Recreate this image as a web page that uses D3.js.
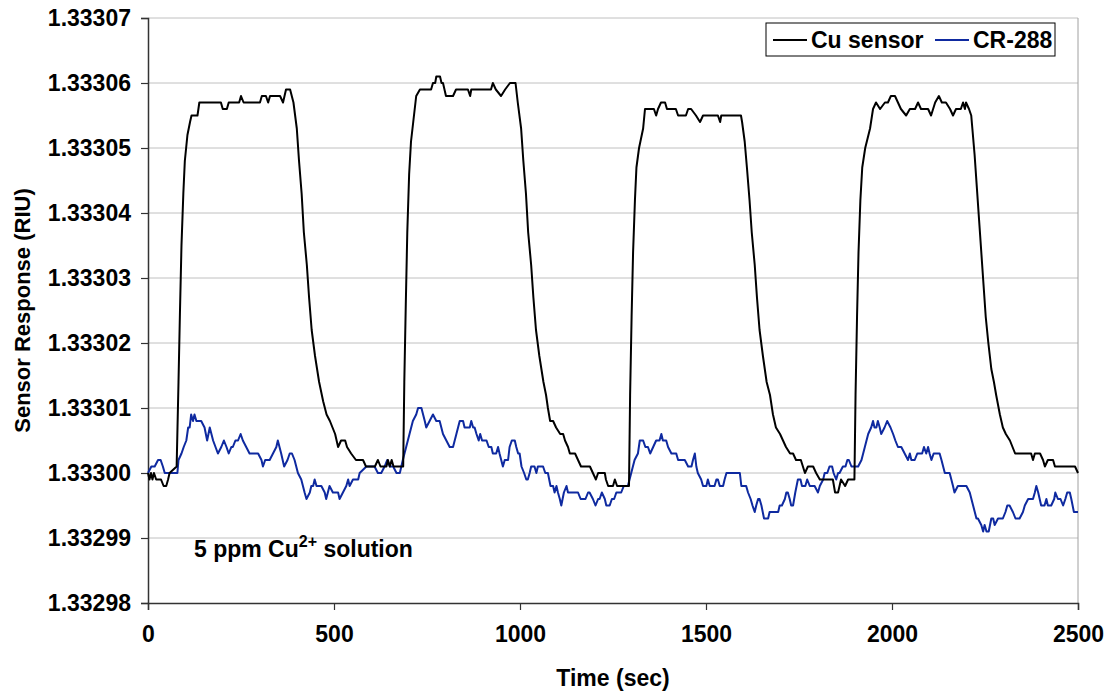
<!DOCTYPE html>
<html>
<head>
<meta charset="utf-8">
<script src="https://cdn.jsdelivr.net/npm/d3@7"></script>
<style>
  body { margin: 0; background: #fff; }
  text { font-family: "Liberation Sans", Arial, sans-serif; font-weight: bold; }
</style>
</head>
<body>
<svg id="chart" width="1110" height="691"></svg>
<script>
// readings, [time (sec), refractive index (RIU)]
var cuSensor = [
  [0,1.333000],[4,1.332999],[8,1.333000],[12,1.332999],[16,1.333000],[22,1.332999],[35,1.332999],[42,1.332998],[49,1.332998],[54,1.332999],[58,1.333000],[77,1.333001],
  [82,1.333014],[86,1.333025],[90,1.333035],[95,1.333043],[99,1.333048],[106,1.333052],[113,1.333054],[117,1.333055],[133,1.333055],[138,1.333057],
  [196,1.333057],[201,1.333056],[212,1.333056],[217,1.333057],[245,1.333057],[250,1.333058],[257,1.333057],[301,1.333057],[306,1.333058],[317,1.333058],
  [323,1.333057],[328,1.333058],[355,1.333058],[363,1.333057],[371,1.333059],[382,1.333059],[391,1.333057],
  [400,1.333053],[406,1.333048],[413,1.333043],[419,1.333037],[427,1.333032],[433,1.333027],[440,1.333022],[449,1.333018],[460,1.333014],[471,1.333011],
  [480,1.333009],[489,1.333008],[503,1.333006],[511,1.333004],[519,1.333005],[530,1.333005],[535,1.333004],[546,1.333003],[559,1.333002],[578,1.333002],
  [586,1.333001],[610,1.333001],[618,1.333002],[625,1.333001],[641,1.333001],[645,1.333002],[650,1.333001],[655,1.333002],[660,1.333001],[686,1.333001],
  [689,1.333014],[693,1.333026],[697,1.333037],[702,1.333046],[707,1.333051],[713,1.333054],[721,1.333058],[731,1.333059],[761,1.333059],[766,1.333060],
  [772,1.333060],[775,1.333061],[785,1.333061],[789,1.333060],[793,1.333060],[801,1.333058],[820,1.333058],[828,1.333059],[860,1.333059],[866,1.333058],
  [869,1.333059],[922,1.333059],[927,1.333060],[935,1.333059],[949,1.333058],[960,1.333059],[973,1.333060],[988,1.333060],[994,1.333057],
  [1003,1.333053],[1009,1.333048],[1016,1.333043],[1022,1.333037],[1030,1.333032],[1036,1.333027],[1043,1.333022],[1052,1.333018],[1063,1.333014],
  [1070,1.333012],[1075,1.333010],[1081,1.333008],[1089,1.333008],[1097,1.333007],[1108,1.333006],[1116,1.333006],[1121,1.333005],[1129,1.333004],
  [1134,1.333003],[1148,1.333003],[1156,1.333002],[1164,1.333001],[1188,1.333001],[1196,1.333000],[1204,1.332999],[1210,1.333000],[1228,1.333000],
  [1231,1.332999],[1237,1.332998],[1250,1.332998],[1255,1.332999],[1261,1.332998],[1293,1.332998],
  [1296,1.333012],[1300,1.333024],[1304,1.333034],[1309,1.333042],[1313,1.333047],[1320,1.333050],[1331,1.333053],[1336,1.333056],[1360,1.333056],
  [1366,1.333055],[1371,1.333056],[1379,1.333057],[1390,1.333057],[1395,1.333056],[1419,1.333056],[1425,1.333055],[1446,1.333055],[1452,1.333056],
  [1460,1.333056],[1473,1.333055],[1484,1.333054],[1492,1.333055],[1532,1.333055],[1538,1.333054],[1541,1.333055],[1594,1.333055],
  [1597,1.333054],[1604,1.333051],[1610,1.333047],[1617,1.333042],[1623,1.333037],[1631,1.333032],[1637,1.333027],[1644,1.333022],[1653,1.333018],
  [1663,1.333014],[1672,1.333012],[1680,1.333009],[1688,1.333007],[1699,1.333006],[1707,1.333005],[1715,1.333004],[1726,1.333003],[1734,1.333003],
  [1742,1.333002],[1755,1.333002],[1766,1.333000],[1774,1.333001],[1788,1.333001],[1796,1.333000],[1806,1.332999],[1841,1.332999],[1847,1.332997],
  [1855,1.332997],[1863,1.332999],[1874,1.332998],[1882,1.332999],[1899,1.332999],
  [1902,1.333012],[1906,1.333024],[1910,1.333034],[1915,1.333042],[1920,1.333047],[1928,1.333050],[1941,1.333053],[1949,1.333056],[1957,1.333057],
  [1968,1.333056],[1981,1.333057],[1989,1.333057],[1997,1.333058],[2008,1.333058],[2016,1.333057],[2024,1.333056],[2038,1.333055],[2048,1.333056],
  [2062,1.333056],[2070,1.333057],[2078,1.333056],[2097,1.333056],[2105,1.333055],[2116,1.333057],[2126,1.333058],[2134,1.333057],[2145,1.333057],
  [2156,1.333056],[2164,1.333055],[2172,1.333056],[2185,1.333056],[2191,1.333057],[2196,1.333056],[2199,1.333057],[2207,1.333056],[2213,1.333055],
  [2216,1.333053],[2222,1.333049],[2228,1.333044],[2234,1.333039],[2240,1.333034],[2246,1.333029],[2252,1.333024],[2259,1.333020],[2267,1.333016],
  [2274,1.333014],[2280,1.333012],[2290,1.333009],[2298,1.333007],[2306,1.333006],[2317,1.333005],[2331,1.333003],[2374,1.333003],[2379,1.333002],
  [2384,1.333003],[2398,1.333003],[2406,1.333002],[2411,1.333001],[2419,1.333002],[2433,1.333002],[2438,1.333001],[2492,1.333001],[2500,1.333000]
];

var cr288 = [
  [0,1.333000],[9,1.333001],[18,1.333001],[27,1.333002],[34,1.333002],[40,1.333001],[45,1.333000],[79,1.333000],[82,1.333002],[90,1.333003],
  [96,1.333004],[103,1.333005],[108,1.333007],[112,1.333007],[116,1.333009],[121,1.333008],[125,1.333009],[130,1.333008],[143,1.333008],[152,1.333007],
  [159,1.333005],[166,1.333007],[175,1.333005],[188,1.333003],[197,1.333004],[204,1.333005],[211,1.333004],[217,1.333003],[224,1.333004],[228,1.333004],
  [235,1.333005],[242,1.333005],[249,1.333006],[255,1.333005],[264,1.333004],[273,1.333003],[296,1.333003],[305,1.333002],[309,1.333001],[315,1.333002],
  [327,1.333002],[336,1.333003],[345,1.333004],[349,1.333005],[358,1.333003],[366,1.333001],[375,1.333002],[381,1.333003],[387,1.333003],[394,1.333002],
  [403,1.333000],[412,1.332999],[421,1.332997],[426,1.332996],[435,1.332997],[439,1.332998],[444,1.332998],[448,1.332999],[453,1.332998],[466,1.332998],
  [475,1.332997],[479,1.332996],[488,1.332998],[497,1.332997],[511,1.332997],[515,1.332996],[524,1.332997],[533,1.332998],[538,1.332999],[542,1.332998],
  [551,1.332999],[565,1.332999],[569,1.333000],[587,1.333001],[609,1.333001],[618,1.333000],[627,1.333000],[636,1.333001],[643,1.333002],[650,1.333001],
  [659,1.333001],[668,1.333000],[677,1.333000],[685,1.333002],[694,1.333004],[703,1.333006],[712,1.333008],[721,1.333009],[726,1.333010],[735,1.333010],
  [744,1.333008],[748,1.333007],[757,1.333008],[766,1.333009],[775,1.333008],[784,1.333008],[793,1.333006],[802,1.333005],[811,1.333004],[820,1.333004],
  [829,1.333006],[838,1.333008],[847,1.333008],[851,1.333007],[865,1.333007],[869,1.333008],[874,1.333007],[878,1.333007],[883,1.333006],[889,1.333005],
  [893,1.333006],[898,1.333005],[910,1.333005],[916,1.333004],[923,1.333004],[927,1.333003],[936,1.333003],[941,1.333004],[945,1.333003],[954,1.333001],
  [959,1.333002],[968,1.333002],[972,1.333004],[978,1.333005],[986,1.333005],[990,1.333004],[995,1.333003],[999,1.333003],[1004,1.333001],[1011,1.333000],
  [1017,1.332999],[1021,1.332999],[1026,1.333000],[1030,1.333001],[1039,1.333001],[1044,1.333000],[1048,1.333001],[1062,1.333001],[1068,1.333000],
  [1075,1.333000],[1082,1.332998],[1089,1.332998],[1093,1.332997],[1098,1.332998],[1102,1.332997],[1107,1.332996],[1111,1.332995],[1118,1.332997],
  [1125,1.332998],[1129,1.332997],[1156,1.332997],[1163,1.332996],[1176,1.332996],[1183,1.332997],[1187,1.332997],[1196,1.332996],[1203,1.332995],
  [1210,1.332996],[1214,1.332996],[1220,1.332997],[1228,1.332996],[1232,1.332995],[1241,1.332995],[1247,1.332996],[1253,1.332996],[1259,1.332997],
  [1272,1.332997],[1279,1.332998],[1290,1.332998],[1299,1.333000],[1308,1.333002],[1317,1.333003],[1322,1.333005],[1331,1.333005],[1337,1.333004],
  [1344,1.333004],[1350,1.333003],[1358,1.333004],[1366,1.333005],[1375,1.333005],[1380,1.333006],[1384,1.333005],[1393,1.333005],[1398,1.333004],
  [1407,1.333003],[1420,1.333003],[1425,1.333002],[1443,1.333002],[1452,1.333001],[1461,1.333001],[1465,1.333002],[1470,1.333003],[1474,1.333001],
  [1478,1.333000],[1487,1.332999],[1492,1.332998],[1501,1.332998],[1505,1.332999],[1510,1.332998],[1523,1.332998],[1528,1.332999],[1532,1.332999],
  [1537,1.332998],[1546,1.332998],[1550,1.332999],[1555,1.333000],[1591,1.333000],[1595,1.332998],[1608,1.332998],[1613,1.332997],[1620,1.332996],
  [1625,1.332995],[1631,1.332994],[1635,1.332995],[1640,1.332996],[1644,1.332996],[1649,1.332995],[1656,1.332993],[1667,1.332993],[1671,1.332994],
  [1694,1.332994],[1698,1.332995],[1704,1.332995],[1712,1.332996],[1716,1.332997],[1720,1.332997],[1725,1.332996],[1729,1.332995],[1734,1.332995],
  [1740,1.332997],[1747,1.332999],[1754,1.332999],[1758,1.332998],[1767,1.332998],[1772,1.332999],[1779,1.332998],[1792,1.332998],[1801,1.332997],
  [1806,1.332998],[1815,1.332999],[1819,1.333000],[1826,1.333000],[1832,1.333001],[1839,1.333001],[1843,1.333000],[1850,1.332999],[1855,1.333000],
  [1859,1.333000],[1868,1.333001],[1875,1.333001],[1880,1.333002],[1884,1.333002],[1891,1.333001],[1909,1.333001],[1918,1.333002],[1927,1.333004],
  [1936,1.333006],[1944,1.333007],[1949,1.333008],[1953,1.333007],[1958,1.333007],[1962,1.333008],[1967,1.333007],[1971,1.333006],[1980,1.333007],
  [1987,1.333008],[1996,1.333007],[2003,1.333006],[2009,1.333005],[2016,1.333004],[2025,1.333004],[2034,1.333003],[2043,1.333002],[2048,1.333003],
  [2052,1.333002],[2061,1.333002],[2068,1.333003],[2081,1.333003],[2086,1.333004],[2092,1.333003],[2097,1.333004],[2101,1.333003],[2106,1.333002],
  [2112,1.333003],[2128,1.333003],[2133,1.333002],[2142,1.333000],[2155,1.333000],[2164,1.332998],[2168,1.332997],[2177,1.332998],[2200,1.332998],
  [2209,1.332997],[2218,1.332995],[2227,1.332993],[2231,1.332993],[2240,1.332992],[2245,1.332991],[2249,1.332992],[2254,1.332991],[2260,1.332991],
  [2267,1.332993],[2272,1.332993],[2276,1.332992],[2285,1.332993],[2298,1.332993],[2305,1.332994],[2310,1.332995],[2316,1.332995],[2325,1.332994],
  [2332,1.332993],[2343,1.332993],[2352,1.332994],[2357,1.332995],[2366,1.332996],[2379,1.332996],[2384,1.332997],[2388,1.332998],[2393,1.332997],
  [2401,1.332995],[2410,1.332995],[2415,1.332996],[2419,1.332995],[2428,1.332995],[2436,1.332996],[2439,1.332997],[2446,1.332996],[2453,1.332996],
  [2460,1.332995],[2466,1.332996],[2471,1.332997],[2478,1.332997],[2482,1.332996],[2489,1.332994],[2500,1.332994]
];

var xTicks = [0, 500, 1000, 1500, 2000, 2500];
var yTicks = [1.33298, 1.33299, 1.33300, 1.33301, 1.33302, 1.33303, 1.33304, 1.33305, 1.33306, 1.33307];
var seriesNames = ["Cu sensor", "CR-288"];
var seriesColors = ["#000000", "#0f2aa0"];

var margin = {top: 18, right: 32, bottom: 88, left: 148},
    width = 1110 - margin.left - margin.right,
    height = 691 - margin.top - margin.bottom;

var svg = d3.select("#chart");
var g = svg.append("g").attr("transform", "translate(" + margin.left + "," + margin.top + ")");

var x = d3.scaleLinear().domain([0, 2500]).range([0, width]);
var y = d3.scaleLinear().domain([1.33298, 1.33307]).range([height, 0]);

// gridlines
g.selectAll(".grid")
  .data(yTicks.slice(1))
  .enter().append("line")
  .attr("class", "grid")
  .attr("x1", 0).attr("x2", width)
  .attr("y1", function(d) { return y(d); })
  .attr("y2", function(d) { return y(d); })
  .attr("stroke", "#c0c0c0")
  .attr("stroke-width", 1);

// right border of plot area
g.append("line")
  .attr("x1", width).attr("x2", width)
  .attr("y1", 0).attr("y2", height)
  .attr("stroke", "#a0a0a0");

var yAxis = g.append("g")
  .call(d3.axisLeft(y).tickValues(yTicks).tickFormat(d3.format(".5f")).tickSizeOuter(0).tickSize(7).tickPadding(10));
var xAxis = g.append("g")
  .attr("transform", "translate(0," + height + ")")
  .call(d3.axisBottom(x).tickValues(xTicks).tickFormat(d3.format("d")).tickSizeOuter(0).tickSize(7).tickPadding(16));

[yAxis, xAxis].forEach(function(a) {
  a.select(".domain").attr("stroke", "#333").attr("stroke-width", 1.5);
  a.selectAll(".tick line").attr("stroke", "#333").attr("stroke-width", 1.2);
  a.selectAll("text")
    .attr("fill", "#000")
    .style("font-size", "23px")
    .style("font-family", "'Liberation Sans', Arial, sans-serif")
    .style("font-weight", "bold");
});

var line = d3.line()
  .x(function(d) { return x(d[0]); })
  .y(function(d) { return y(d[1]); });

[cr288, cuSensor].forEach(function(data, i) {
  g.append("path")
    .datum(data)
    .attr("fill", "none")
    .attr("stroke", i == 0 ? seriesColors[1] : seriesColors[0])
    .attr("stroke-width", 2)
    .attr("stroke-linejoin", "round")
    .attr("d", line);
});

// axis titles
svg.append("text")
  .attr("x", margin.left + width / 2)
  .attr("y", 686)
  .attr("text-anchor", "middle")
  .style("font-size", "23px")
  .text("Time (sec)");

svg.append("text")
  .attr("transform", "translate(30," + (margin.top + height / 2) + ") rotate(-90)")
  .attr("text-anchor", "middle")
  .style("font-size", "22px")
  .text("Sensor Response (RIU)");

// annotation
var note = svg.append("text")
  .attr("x", 194)
  .attr("y", 557)
  .style("font-size", "23px");
note.append("tspan").text("5 ppm Cu");
note.append("tspan").attr("dy", -10).style("font-size", "16px").text("2+");
note.append("tspan").attr("dy", 10).text(" solution");

// legend
var legend = svg.append("g").attr("transform", "translate(766,23)");
legend.append("rect")
  .attr("width", 289).attr("height", 33)
  .attr("fill", "#fff").attr("stroke", "#000").attr("stroke-width", 1);

var legX = [7, 169];
seriesNames.forEach(function(name, i) {
  var item = legend.append("g").attr("transform", "translate(" + legX[i] + ",0)");
  item.append("line")
    .attr("x1", 0).attr("x2", 34)
    .attr("y1", 17).attr("y2", 17)
    .attr("stroke", seriesColors[i]).attr("stroke-width", 2);
  item.append("text")
    .attr("x", 38).attr("y", 25)
    .style("font-size", "23px")
    .text(name);
});
</script>
</body>
</html>
